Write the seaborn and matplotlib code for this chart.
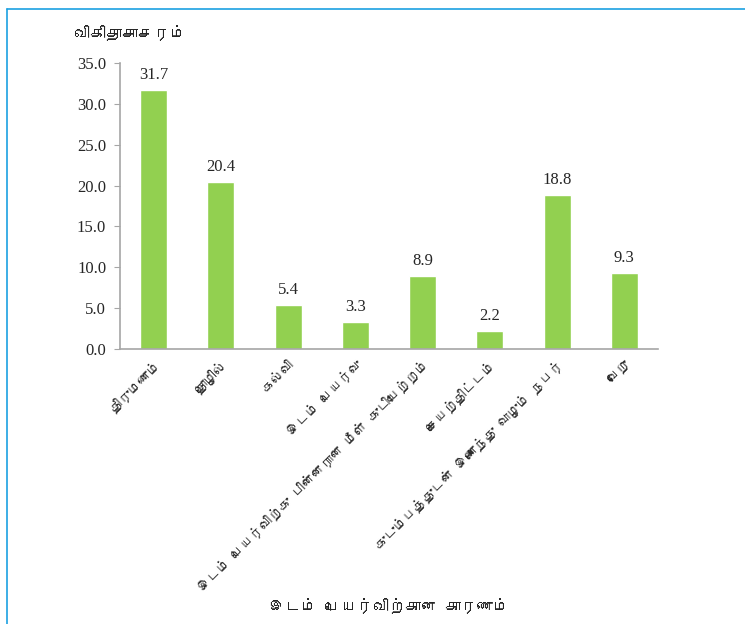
import matplotlib
matplotlib.use('Agg')
import matplotlib.pyplot as plt
import seaborn as sns
import pandas as pd
from matplotlib import font_manager
from matplotlib.ft2font import FT2Font
from matplotlib.lines import Line2D

# Data
reasons = ['திருமணம்', 'தொழில்', 'கல்வி', 'இடம் பெயர்வு',
           'இடம் பெயர்விற்கு பின்னரான மீள் குடியேற்றம்', 'செயற்திட்டம்',
           'குடும்பத்துடன் இணைந்து வாழும் நபர்', 'வேறு']
percent = [31.7, 20.4, 5.4, 3.3, 8.9, 2.2, 18.8, 9.3]
y_ticks = [0.0, 5.0, 10.0, 15.0, 20.0, 25.0, 30.0, 35.0]

df = pd.DataFrame({'reason': reasons, 'percent': percent})

# Find a font that has Tamil glyphs
tamil_font = None
for f in font_manager.fontManager.ttflist:
    try:
        if 0x0BA4 in FT2Font(f.fname).get_charmap():
            tamil_font = f.name
            break
    except Exception:
        pass
tamil_family = [tamil_font, 'DejaVu Sans'] if tamil_font else ['DejaVu Sans']
num_family = ['Liberation Serif', 'DejaVu Serif']

sns.set_style('white')
fig = plt.figure(figsize=(7.45, 6.24), dpi=100)
ax = fig.add_axes([120 / 745, 1 - 349 / 624, 538 / 745, (349 - 63) / 624])

sns.barplot(data=df, x='reason', y='percent', color='#92D050', saturation=1,
            width=0.4, ax=ax)

ax.set_ylim(0, 35)
ax.set_yticks(y_ticks)
ax.set_yticklabels([f'{v:.1f}' for v in y_ticks], family=num_family, fontsize=12)
ax.tick_params(axis='y', left=True, length=4, color='#A6A6A6', pad=6)
ax.tick_params(axis='x', bottom=False, pad=3)
ax.set_xticks(range(len(reasons)))
ax.set_xticklabels(reasons, rotation=45, ha='right', rotation_mode='anchor',
                   family=tamil_family, fontsize=9.6)

for s in ['top', 'right']:
    ax.spines[s].set_visible(False)
for s in ['left', 'bottom']:
    ax.spines[s].set_color('#A6A6A6')
    ax.spines[s].set_linewidth(1.2)

for i, v in enumerate(percent):
    ax.text(i, v + 0.9, f'{v:.1f}', ha='center', va='bottom',
            family=num_family, fontsize=12)

ax.set_xlabel('')
ax.set_ylabel('')
fig.text(130 / 745, 1 - 33 / 624, 'விகிதாசாசரம்', ha='center', va='center',
         family=tamil_family, fontsize=11.5)
fig.text(389 / 745, 1 - 606 / 624, 'இடம் பெயர்விற்கான காரணம்', ha='center',
         va='center', family=tamil_family, fontsize=11.5)

# Frame border (left and top)
fig.add_artist(Line2D([7 / 745, 7 / 745], [0, 1 - 9 / 624], color='#1BA1E2', lw=1.2))
fig.add_artist(Line2D([7 / 745, 1], [1 - 9 / 624, 1 - 9 / 624], color='#1BA1E2', lw=1.2))

fig.savefig('out.png', dpi=100)
